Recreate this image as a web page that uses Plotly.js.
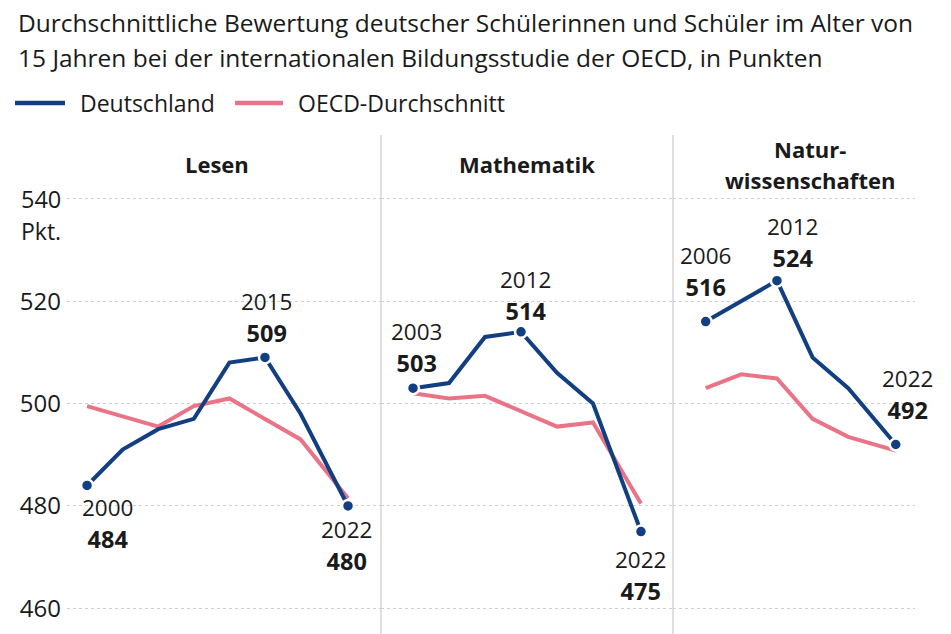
<!DOCTYPE html>
<html>
<head>
<meta charset="utf-8">
<script src="https://cdn.plot.ly/plotly-3.0.1.min.js"></script>
<style>
  html, body { margin: 0; padding: 0; background: #fff; }
  #chart { width: 951px; height: 634px; }
</style>
</head>
<body>
<div id="chart"></div>
<script>
// PISA results
const lesenYears = [2000, 2003, 2006, 2009, 2012, 2015, 2018, 2022];
const lesenDE    = [484, 491, 495, 497, 508, 509, 498, 480];
const lesenOECD  = [499.5, 497.5, 495.5, 499.5, 501, 497, 493, 481.5];

const matheYears = [2003, 2006, 2009, 2012, 2015, 2018, 2022];
const matheDE    = [503, 504, 513, 514, 506, 500, 475];
const matheOECD  = [502, 501, 501.5, 498.5, 495.5, 496.3, 480.5];

const naturYears = [2006, 2009, 2012, 2015, 2018, 2022];
const naturDE    = [516, 520, 524, 509, 503, 492];
const naturOECD  = [503, 505.7, 504.9, 497, 493.5, 490.8];

const panelTitles = ['Lesen', 'Mathematik', 'Natur-<br>wissenschaften'];
const yTicks = [460, 480, 500, 520, 540];
const yTickText = ['460', '480', '500', '520', ''];   // 540 is drawn together with the unit
const seriesNames = ['Deutschland', 'OECD-Durchschnitt'];

// highlighted years per panel
const lesenMarks = [2000, 2015, 2022];
const matheMarks = [2003, 2012, 2022];
const naturMarks = [2006, 2012, 2022];

const BLUE = '#123f82';
const PINK = '#ea7487';
const INK = '#1a1a1a';
const FONT = 'Open Sans, Noto Sans, sans-serif';
const W = 951, H = 634;

const panels = [
    {years: lesenYears, de: lesenDE, oecd: lesenOECD, marks: lesenMarks, ax: '',
     dom: [67, 381], xr: [1998.31, 2024.78], titleX: 217, titleY: 164,
     shift: {2000: [20, -38], 2015: [2, 40], 2022: [-2, -40]}},
    {years: matheYears, de: matheDE, oecd: matheOECD, marks: matheMarks, ax: '2',
     dom: [381, 673], xr: [2000.33, 2024.67], titleX: 527, titleY: 164,
     shift: {2003: [3, 41], 2012: [4, 36], 2022: [0, -44]}},
    {years: naturYears, de: naturDE, oecd: naturOECD, marks: naturMarks, ax: '3',
     dom: [673, 915], xr: [2003.25, 2023.62], titleX: 810, titleY: 165,
     shift: {2006: [0, 50], 2012: [16, 38], 2022: [12, 50]}}
];

const traces = [];
const annotations = [];
const layout = {
    width: W, height: H,
    margin: {l: 0, r: 0, t: 0, b: 0},
    paper_bgcolor: '#fff', plot_bgcolor: 'rgba(0,0,0,0)',
    font: {family: FONT, color: INK},
    showlegend: false,
    shapes: [],
    annotations: annotations
};

function paperText(x, y, text, size, anchor) {
    annotations.push({
        xref: 'paper', yref: 'paper', x: x / W, y: 1 - y / H,
        xanchor: anchor || 'left', yanchor: 'middle', align: anchor || 'left', showarrow: false,
        text: text, font: {size: size, family: FONT, color: INK}
    });
}

// the base font size sets the line spacing (1.3em), the spans set the glyph size
const sized = (t, px) => '<span style="font-size:' + px + 'px">' + t + '</span>';

panels.forEach((p, i) => {
    const xa = 'x' + p.ax, ya = 'y' + p.ax;
    traces.push({
        x: p.years, y: p.oecd, xaxis: xa, yaxis: ya, mode: 'lines', type: 'scatter',
        name: seriesNames[1], line: {color: PINK, width: 4}, hoverinfo: 'skip'
    });
    traces.push({
        x: p.years, y: p.de, xaxis: xa, yaxis: ya, mode: 'lines', type: 'scatter',
        name: seriesNames[0], line: {color: BLUE, width: 4}, hoverinfo: 'skip'
    });
    const mx = p.marks;
    const my = mx.map(yr => p.de[p.years.indexOf(yr)]);
    traces.push({
        x: mx, y: my, xaxis: xa, yaxis: ya, mode: 'markers', type: 'scatter',
        hoverinfo: 'skip',
        marker: {color: BLUE, size: 12, line: {color: '#fff', width: 2.5}}
    });

    layout['xaxis' + p.ax] = {
        domain: [p.dom[0] / W, p.dom[1] / W], range: p.xr, anchor: ya,
        showgrid: false, zeroline: false, showticklabels: false, showline: false, fixedrange: true
    };
    layout['yaxis' + p.ax] = {
        domain: [0, 0.727], range: [455, 545], anchor: xa,
        tickvals: yTicks, ticktext: yTickText, showticklabels: i === 0, ticks: '', ticklabelstandoff: 5,
        tickfont: {size: 24, family: FONT, color: INK},
        showgrid: true, gridcolor: '#cfcfcf', gridwidth: 1, griddash: '3px,3px',
        zeroline: false, showline: false, fixedrange: true
    };

    paperText(p.titleX, p.titleY, '<b>' + sized(panelTitles[i], 22) + '</b>', 23.5, 'center');

    // year and score next to the highlighted points
    mx.forEach((yr, k) => {
        const s = p.shift[yr];
        annotations.push({
            xref: xa, yref: ya, x: yr, y: my[k], xshift: s[0], yshift: s[1],
            xanchor: 'center', yanchor: 'middle', showarrow: false,
            text: sized(yr, 22.5) + '<br><b>' + sized(Math.round(my[k]), 23.5) + '</b>',
            font: {size: 24.5, family: FONT, color: INK}
        });
    });
});

// vertical dividers between the panels
[381, 673].forEach(px => {
    layout.shapes.push({
        type: 'line', xref: 'paper', yref: 'paper',
        x0: px / W, x1: px / W, y0: 0, y1: 1 - 135 / H,
        line: {color: '#d4d4d4', width: 1.5}
    });
});

// top tick with the unit below it
paperText(19, 215, sized(yTicks[yTicks.length - 1], 23.5) + '<br>' + sized('Pkt.', 23), 24.5);

// two-line heading
paperText(16, 23, 'Durchschnittliche Bewertung deutscher Schülerinnen und Schüler im Alter von', 24.5);
paperText(16, 57, '15 Jahren bei der internationalen Bildungsstudie der OECD, in Punkten', 24.5);

// legend
[[15, 65, BLUE, 78], [235, 283, PINK, 296]].forEach((l, k) => {
    layout.shapes.push({
        type: 'line', xref: 'paper', yref: 'paper',
        x0: l[0] / W, x1: l[1] / W, y0: 1 - 103 / H, y1: 1 - 103 / H,
        line: {color: l[2], width: 4.5}
    });
    paperText(l[3], 103, seriesNames[k], 23);
});

Plotly.newPlot('chart', traces, layout, {displayModeBar: false, staticPlot: true});
</script>
</body>
</html>
